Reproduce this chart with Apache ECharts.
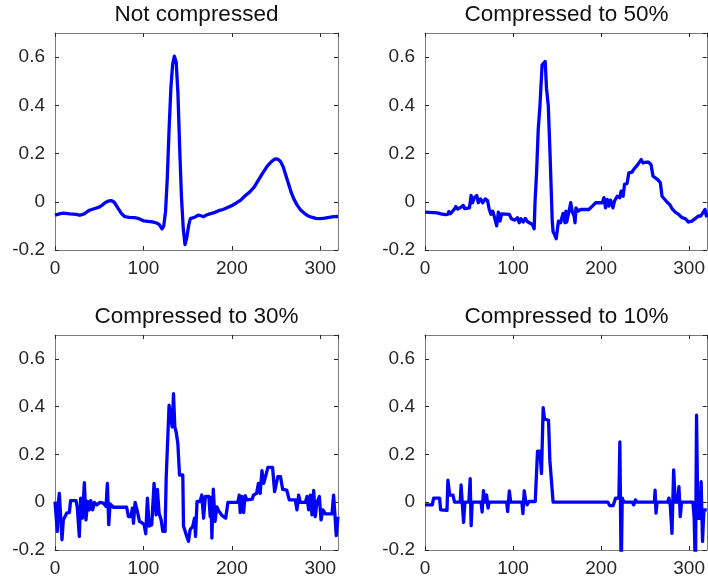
<!DOCTYPE html>
<html><head><meta charset="utf-8">
<script src="https://cdn.jsdelivr.net/npm/echarts@6/dist/echarts.min.js"></script>
<style>html,body{margin:0;padding:0;background:#fff}#c{width:708px;height:581px}</style>
</head><body><div id="c"></div><script>
const titles = ['Not compressed', 'Compressed to 50%', 'Compressed to 30%', 'Compressed to 10%'];
const xTickValues = [0, 100, 200, 300];
const yTickValues = [-0.2, 0, 0.2, 0.4, 0.6];
const xRange = [0, 320];
const yRange = [-0.2, 0.7];

const notCompressed = [[0,-0.055],[5,-0.05],[9,-0.047],[17,-0.05],[24,-0.052],[28,-0.056],[33,-0.05],[39,-0.035],[45,-0.028],[50,-0.022],[53,-0.015],[57,-0.003],[61,0.004],[64,0.005],[67,-0.002],[71,-0.025],[75,-0.048],[79,-0.062],[84,-0.065],[90,-0.066],[95,-0.07],[100,-0.079],[105,-0.081],[110,-0.083],[115,-0.088],[118,-0.095],[121,-0.112],[123,-0.1],[125,-0.04],[127,0.1],[129,0.3],[131,0.47],[133,0.57],[135,0.604],[137,0.58],[139,0.45],[141,0.22],[143,0.02],[145,-0.11],[147,-0.178],[149,-0.15],[151,-0.1],[153,-0.07],[155,-0.063],[158,-0.064],[162,-0.055],[165,-0.058],[168,-0.062],[171,-0.055],[175,-0.05],[180,-0.045],[185,-0.037],[190,-0.032],[195,-0.024],[200,-0.016],[205,-0.005],[210,0.007],[215,0.025],[220,0.04],[225,0.06],[230,0.09],[235,0.12],[240,0.148],[245,0.168],[249,0.178],[252,0.177],[255,0.167],[258,0.145],[261,0.11],[264,0.075],[267,0.04],[270,0.012],[274,-0.015],[278,-0.035],[282,-0.048],[286,-0.058],[290,-0.064],[295,-0.069],[300,-0.07],[305,-0.068],[310,-0.065],[315,-0.062],[320,-0.061]];

const compressed50 = [[0,-0.043],[10,-0.045],[12,-0.038],[14,-0.046],[18,-0.05],[23,-0.053],[26,-0.052],[27,-0.041],[29,-0.05],[31,-0.05],[33.6,-0.029],[35,-0.02],[37,-0.03],[39,-0.032],[41,-0.022],[43.5,-0.015],[45,-0.028],[47,-0.028],[50.5,-0.025],[52.4,0.026],[54,-0.004],[56,0.017],[58.8,0.026],[60.5,-0.004],[63,0.012],[65.5,-0.004],[68.5,0.012],[71,0.005],[73,-0.032],[75,-0.052],[77,-0.039],[79,-0.066],[81.4,-0.1],[83.3,-0.043],[85.2,-0.08],[87,-0.05],[95.8,-0.052],[98,-0.07],[102,-0.076],[105,-0.066],[107,-0.087],[109,-0.07],[111.6,-0.084],[114,-0.069],[116.5,-0.083],[119,-0.088],[122,-0.094],[124,-0.112],[125,0.003],[126.7,0.12],[128.6,0.3],[130.5,0.396],[133,0.568],[134.5,0.56],[136.5,0.582],[138,0.47],[140,0.4],[142,0.2],[144.5,-0.08],[145.5,-0.125],[147,-0.135],[149,-0.153],[150,-0.15],[151.6,-0.08],[154,-0.087],[156.8,-0.048],[159,-0.087],[160,-0.039],[161,-0.084],[163.6,-0.039],[165.5,-0.004],[167.4,-0.043],[169.3,-0.059],[170.4,-0.087],[171.5,-0.025],[173.8,-0.039],[176.8,-0.032],[186,-0.032],[190,-0.018],[193.8,-0.004],[201.3,-0.004],[203.2,0.017],[205,-0.025],[207,0.01],[208.8,-0.018],[210.7,0.007],[213.4,-0.025],[215.2,0.003],[218.3,0.023],[221.3,0.017],[222.8,0.044],[225,0.023],[226.6,0.072],[229.5,0.076],[231.5,0.12],[235.2,0.123],[237,0.134],[239,0.141],[241.6,0.154],[245.5,0.175],[247.7,0.161],[250.3,0.164],[254,0.164],[256.7,0.154],[259,0.106],[261.6,0.099],[264.3,0.092],[267.3,0.079],[269.2,0.023],[271,0.017],[274.8,-0.001],[277.8,-0.011],[280.5,-0.028],[284.2,-0.043],[288,-0.052],[291.8,-0.066],[295.5,-0.07],[299.3,-0.084],[303,-0.08],[306.8,-0.07],[310.6,-0.059],[313.3,-0.059],[315.5,-0.046],[318,-0.032],[319.5,-0.059],[320,-0.045]];

const compressed30 = [[0,0.003],[1,0.003],[2.6,-0.122],[3.8,-0.004],[4.9,0.037],[6.4,0.037],[7.9,-0.157],[9.4,-0.074],[11.3,-0.067],[13.2,-0.046],[16.2,-0.043],[17.7,0.007],[23.8,0.007],[25.3,-0.025],[27.5,-0.143],[29,0.017],[31,-0.067],[33.2,0.082],[35,-0.074],[37,0.003],[38.9,-0.032],[40.4,0.007],[42.6,-0.032],[44.5,-0.001],[47.2,-0.011],[51,-0.001],[54.7,-0.004],[57.7,-0.018],[59.2,0.079],[60.8,-0.094],[62.3,-0.007],[66,-0.021],[81,-0.021],[83,-0.06],[85.7,-0.06],[87.5,-0.025],[88.7,-0.088],[90.6,-0.001],[93.2,-0.039],[95.5,-0.08],[98,-0.085],[100.8,-0.094],[102.6,-0.132],[104.5,0.017],[106.4,-0.1],[109.4,-0.094],[112,0.079],[114.3,-0.053],[115.8,0.054],[117.7,-0.046],[120,-0.074],[121.9,-0.122],[124.5,-0.122],[125.7,0.1],[127.2,0.107],[129,0.406],[131,0.401],[132.5,0.315],[134,0.454],[135.5,0.315],[137,0.294],[138.9,0.246],[140.8,0.114],[144.5,0.114],[145.3,-0.1],[147.2,-0.108],[149,-0.143],[151,-0.164],[152.8,-0.115],[155.8,-0.1],[157.7,-0.067],[158.9,-0.143],[160.6,0.003],[164,0.003],[166,0.03],[168,-0.067],[170,0.024],[174,0.024],[175.5,-0.06],[176.5,0.02],[177.4,-0.15],[179,0.055],[181,-0.08],[183,-0.02],[185,-0.035],[188.7,-0.055],[193,-0.067],[195.5,-0.001],[206.8,-0.001],[208.3,0.03],[209.4,-0.043],[211.3,0.024],[213.2,-0.043],[215,0.028],[217,0.01],[223,0.013],[224.5,0.03],[228,0.037],[230,0.079],[232,0.037],[234,0.132],[236,0.079],[238,0.079],[240.8,0.146],[246,0.146],[248.3,0.044],[250,0.044],[252,0.107],[255,0.107],[257.4,0.054],[262,0.051],[264.9,0.01],[271.7,0.01],[273.6,-0.032],[275.5,0.03],[277.4,-0.001],[283,-0.001],[285,0.024],[286.8,-0.032],[288.7,0.03],[290.6,-0.053],[292.5,0.049],[294.3,-0.06],[296,-0.004],[298.9,0.024],[300.8,-0.074],[303,-0.032],[305.7,-0.049],[313.2,-0.049],[315,0.03],[316.5,-0.05],[318,-0.14],[320,-0.06]];

const compressed10 = [[0,-0.011],[8.3,-0.011],[9.8,0.017],[16.6,0.017],[17.8,-0.032],[25,-0.034],[26,0.092],[27,0.09],[28,0.03],[31.7,0.03],[33.6,0],[40,0],[41,0.072],[42,0.07],[43.8,-0.084],[45.3,0],[49.8,0],[51.3,0.099],[52.4,-0.098],[53.6,0],[63.7,0],[64.9,-0.041],[66.4,0.048],[67.9,0],[69.5,0],[70,0.03],[71.6,-0.025],[72.8,0],[92.8,0],[93.9,-0.039],[95.8,0.047],[97.3,0],[110,0],[111.2,-0.048],[112.7,0.048],[114.6,0],[116,-0.011],[118,0.003],[125.2,0.003],[127.8,0.214],[130.5,0.214],[132.3,0.12],[134.2,0.396],[135.7,0.348],[140.3,0.343],[141.8,0.175],[144,0.175],[145.5,0],[207.7,0],[209.8,-0.014],[213.7,-0.014],[216.4,0.017],[220.2,0.017],[221.3,0.253],[222.8,-0.3],[224,0.017],[225.8,0],[235.3,0],[237,-0.011],[239,0.01],[240.9,0],[260.5,0],[261.3,0.051],[262.4,-0.046],[263.5,0],[275.6,0],[277,0.017],[278.6,-0.015],[280.5,-0.13],[282.4,0.135],[284.3,0],[287,0],[288.4,0.065],[289.9,-0.06],[291.4,0],[304.3,0],[305.7,-0.067],[307.2,-0.3],[308.4,0.364],[309.9,-0.067],[312.5,-0.067],[313.6,0.086],[315.2,-0.164],[316.7,-0.032],[320,-0.032]];

const seriesData = [notCompressed, compressed50, compressed30, compressed10];

const gridBoxes = [
  {left: 55, top: 33, width: 283, height: 217},
  {left: 425, top: 33, width: 283, height: 217},
  {left: 55, top: 335, width: 283, height: 215},
  {left: 425, top: 335, width: 283, height: 215}
];
const titleTops = [3, 3, 305, 305];

const boxColor = '#7a7a7a';
const textColor = '#262626';
const font = 'Liberation Sans, Arial, Helvetica, sans-serif';

function fmt(v) { return String(Math.round(v * 10) / 10); }

const xAxes = [], yAxes = [], series = [], title = [];
gridBoxes.forEach((g, i) => {
  ['bottom', 'top'].forEach(pos => {
    xAxes.push({
      type: 'value', gridIndex: i, position: pos, min: xRange[0], max: xRange[1], interval: 100,
      axisLine: {show: true, onZero: false, lineStyle: {color: boxColor, width: 1}},
      axisTick: {show: true, inside: true, length: 4, lineStyle: {color: textColor, width: 1}},
      axisLabel: {show: pos === 'bottom', showMaxLabel: false, margin: 9, color: textColor, fontSize: 19, fontFamily: font,
        formatter: v => xTickValues.indexOf(Math.round(v)) >= 0 ? String(Math.round(v)) : ''},
      splitLine: {show: false}
    });
  });
  ['left', 'right'].forEach(pos => {
    yAxes.push({
      type: 'value', gridIndex: i, position: pos, min: yRange[0], max: yRange[1], interval: 0.2,
      axisLine: {show: true, onZero: false, lineStyle: {color: boxColor, width: 1}},
      axisTick: {show: true, inside: true, length: 4, lineStyle: {color: textColor, width: 1}},
      axisLabel: {show: pos === 'left', showMaxLabel: false, margin: 10, color: textColor, fontSize: 19, fontFamily: font,
        formatter: v => yTickValues.some(t => Math.abs(t - v) < 1e-6) ? fmt(v) : ''},
      splitLine: {show: false}
    });
  });
  series.push({
    type: 'line', xAxisIndex: i * 2, yAxisIndex: i * 2, data: seriesData[i],
    showSymbol: false, symbol: 'none', clip: true, animation: false,
    lineStyle: {color: '#0000ff', width: 3.3, join: 'round'}
  });
  title.push({
    text: titles[i], left: g.left + g.width / 2, top: titleTops[i], textAlign: 'center', padding: 0,
    textStyle: {color: '#111', fontSize: 22.5, fontWeight: 'normal', fontFamily: font}
  });
});

const chart = echarts.init(document.getElementById('c'), null, {renderer: 'canvas'});
chart.setOption({
  animation: false,
  backgroundColor: '#fff',
  title: title,
  grid: gridBoxes.map(g => Object.assign({containLabel: false}, g)),
  xAxis: xAxes,
  yAxis: yAxes,
  series: series
});
</script></body></html>
